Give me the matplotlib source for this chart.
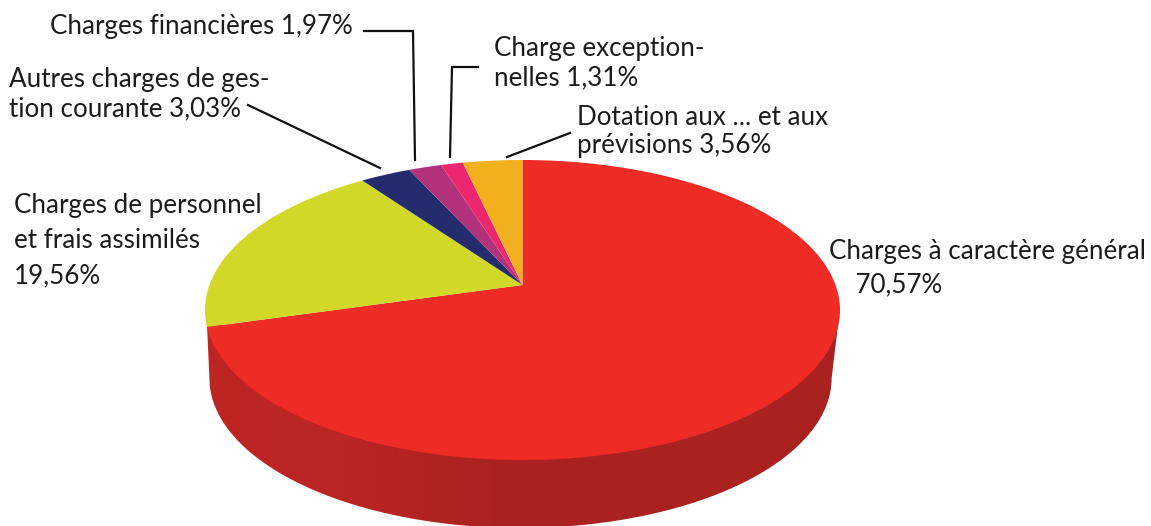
import numpy as np
import matplotlib
matplotlib.use("Agg")
import matplotlib.pyplot as plt
from matplotlib.transforms import Transform
from matplotlib.path import Path
from matplotlib.colors import LinearSegmentedColormap

# Data, clockwise from the top of the pie
categories = ["Charges à caractère général", "Charges de personnel et frais assimilés",
              "Autres charges de gestion courante", "Charges financières",
              "Charge exceptionnelles", "Dotation aux ... et aux prévisions"]
values = [70.57, 19.56, 3.03, 1.97, 1.31, 3.56]
colors = ["#EE2B24", "#D1D827", "#252C6E", "#B1317A", "#EC2770", "#F2B01E"]
labels = ["Charges à caractère général\n    70,57%",
          "Charges de personnel\net frais assimilés\n19,56%",
          "Autres charges de ges-\ntion courante 3,03%",
          "Charges financières 1,97%",
          "Charge exception-\nnelles 1,31%",
          "Dotation aux ... et aux\nprévisions 3,56%"]
label_xy = [(829, 239), (14, 193), (9, 67), (50, 14), (494, 36), (577, 105)]
label_spacing = [1.42, 1.5, 1.24, 1.24, 1.24, 1.17]
leaders = [None, None,
           [(248, 105), (380, 168)],
           [(364, 31), (413, 31), (415, 160)],
           [(478, 67), (452, 67), (450, 157)],
           [(570, 133), (507, 157)]]

CX, CY, RX, RY = 522.5, 310, 317.5, 150
APEX_Y = 285
DEPTH = 68


class Perspective(Transform):
    """Projects the unit-circle pie on to the tilted ellipse, keeping the apex off-centre."""
    input_dims = output_dims = 2

    def __init__(self, a):
        super().__init__()
        self.a = a

    def transform_non_affine(self, values):
        values = np.asarray(values, float)
        u, v = values[:, 0], values[:, 1]
        a = self.a
        w = 1 + a * v
        xp = u * np.sqrt(1 - a * a) / w
        yp = (v + a) / w
        return np.column_stack([CX + RX * xp, CY - RY * yp])


plt.rcParams["font.family"] = ["Lato", "DejaVu Sans"]
fig = plt.figure(figsize=(11.51, 5.26), dpi=100, facecolor="white")
ax = fig.add_axes([0, 0, 1, 1])

wedges, _ = ax.pie(values, colors=colors, startangle=90, counterclock=False, radius=1,
                   wedgeprops=dict(linewidth=0))
ax.set_aspect("auto")
ax.axis("off")

proj = Perspective((CY - APEX_Y) / RY) + ax.transData
for w in wedges:
    w.set_transform(proj)
    w.set_clip_on(False)
    w.set_zorder(3)

# Side wall below the red wedge, with a soft left-to-right shade
t_all = np.linspace(np.pi, 2 * np.pi, 300)
LOW_CX, LOW_RX = CX - 2, 0.98 * RX
sil = np.vstack([
    [[CX - RX + 2, CY + 15]],
    np.column_stack([LOW_CX + LOW_RX * np.cos(t_all), CY + DEPTH - RY * np.sin(t_all)]),
    [[CX + RX - 2, CY + 15]],
    [[CX - RX + 2, CY + 15]],
])
shade = LinearSegmentedColormap.from_list(
    "side", [(0, "#BE2523"), (0.22, "#BA2523"), (0.45, "#AB2220"), (1, "#AA2320")])
im = ax.imshow(np.linspace(0, 1, 256)[None, :], cmap=shade, aspect="auto",
               extent=(CX - RX, CX + RX, 530, 300), zorder=1, interpolation="bilinear")
im.set_clip_path(Path(sil), transform=ax.transData)
ax.set_xlim(0, 1151)
ax.set_ylim(526, 0)

for lab, (x, y), sp in zip(labels, label_xy, label_spacing):
    ax.text(x, y, lab, fontsize=18.7, color="#1c1c1c", ha="left", va="top",
            linespacing=sp, zorder=5)
for pts in leaders:
    if pts:
        xs, ys = zip(*pts)
        ax.plot(xs, ys, color="#111111", lw=1.6, solid_joinstyle="miter", zorder=4)

fig.savefig("out.png", dpi=100, facecolor="white")
